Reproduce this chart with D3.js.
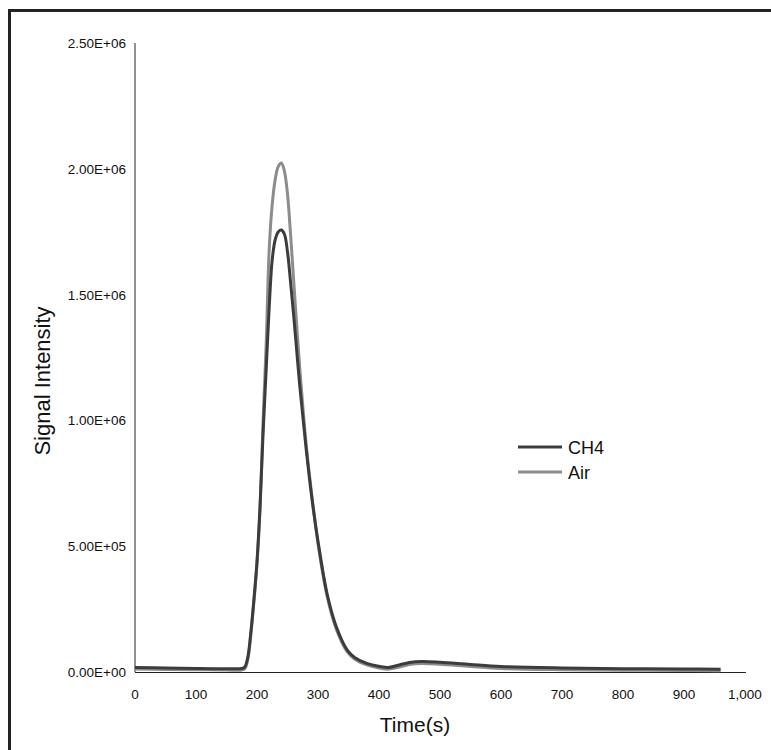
<html>
<head>
<title>Signal intensity vs time</title>
<script type="text/javascript" src="https://cdn.jsdelivr.net/npm/d3@7/dist/d3.min.js"></script>
<style>
  body { margin: 0; background: #fff; }
  text { font-family: "Liberation Sans", Arial, sans-serif; fill: #111; }
</style>
</head>
<body>
<div id="chart"></div>
<script type="text/javascript">

// time points (s) shared by both series
var times = [0, 50, 100, 150, 175, 180, 185, 190, 195, 200, 205, 210, 215, 220, 225, 230, 235, 240,
             245, 250, 255, 260, 265, 270, 275, 280, 290, 300, 315, 330, 348, 360, 380, 400, 415,
             430, 450, 470, 500, 550, 600, 700, 800, 900, 960];

var ch4 = [1.8e4, 1.6e4, 1.4e4, 1.3e4, 1.4e4, 2.0e4, 6.0e4, 1.6e5, 2.9e5, 4.4e5, 6.6e5, 9.5e5, 1.2e6, 1.45e6, 1.64e6, 1.72e6, 1.75e6, 1.757e6,
           1.74e6, 1.67e6, 1.55e6, 1.42e6, 1.28e6, 1.14e6, 1.02e6, 9.0e5, 6.9e5, 5.2e5, 3.1e5, 1.8e5, 8.7e4, 5.8e4, 3.4e4, 2.3e4, 1.8e4,
           2.6e4, 3.8e4, 4.2e4, 3.9e4, 3.0e4, 2.2e4, 1.6e4, 1.3e4, 1.2e4, 1.1e4];

var air = [1.2e4, 1.0e4, 0.9e4, 0.8e4, 0.8e4, 1.3e4, 5.0e4, 1.5e5, 2.8e5, 4.3e5, 6.5e5, 1.0e6, 1.3e6, 1.68e6, 1.86e6, 1.96e6, 2.01e6, 2.023e6,
           1.99e6, 1.90e6, 1.74e6, 1.56e6, 1.38e6, 1.21e6, 1.06e6, 9.2e5, 7.0e5, 5.1e5, 3.0e5, 1.7e5, 8.0e4, 5.2e4, 2.8e4, 1.6e4, 1.1e4,
           1.8e4, 3.0e4, 3.4e4, 3.1e4, 2.2e4, 1.4e4, 9e3, 7e3, 6e3, 5e3];

var xTicks = [0, 100, 200, 300, 400, 500, 600, 700, 800, 900, 1000];
var yTicks = [0, 5e5, 1e6, 1.5e6, 2e6, 2.5e6];

var seriesNames = ["CH4", "Air"];
var seriesColors = { "CH4": "#3c3c3c", "Air": "#8c8c8c" };

var width = 771, height = 750;

var svg = d3.select("#chart").append("svg")
  .attr("width", width)
  .attr("height", height);

// outer frame (runs off the right and bottom edge)
svg.append("path")
  .attr("d", "M9.5,780 L9.5,10.5 L780,10.5")
  .attr("fill", "none")
  .attr("stroke", "#222")
  .attr("stroke-width", 3);

var x = d3.scaleLinear().domain([0, 1000]).range([135, 745]);
var y = d3.scaleLinear().domain([0, 2.5e6]).range([672, 43]);

// y axis line + labels
svg.append("line")
  .attr("x1", 135).attr("x2", 135)
  .attr("y1", y(2.5e6)).attr("y2", y(0))
  .attr("stroke", "#555").attr("stroke-width", 1.3);

yTicks.forEach(function(v) {
  var s = v.toExponential(2).toUpperCase().replace("E+", "E+0");
  svg.append("text")
    .attr("x", 126)
    .attr("y", y(v) + 5)
    .attr("text-anchor", "end")
    .style("font-size", "13.5px")
    .text(s);
});

// x axis line + labels
svg.append("line")
  .attr("x1", 135).attr("x2", 746)
  .attr("y1", 672.5).attr("y2", 672.5)
  .attr("stroke", "#222").attr("stroke-width", 1.2);

xTicks.forEach(function(v) {
  svg.append("text")
    .attr("x", x(v))
    .attr("y", 699)
    .attr("text-anchor", "middle")
    .style("font-size", "13.5px")
    .text(d3.format(",")(v));
});

// axis titles
svg.append("text")
  .attr("x", 415)
  .attr("y", 732)
  .attr("text-anchor", "middle")
  .style("font-size", "21px")
  .text("Time(s)");

svg.append("text")
  .attr("transform", "translate(50,381) rotate(-90)")
  .attr("text-anchor", "middle")
  .style("font-size", "22px")
  .text("Signal Intensity");

// series
var line = d3.line()
  .x(function(d) { return x(d[0]); })
  .y(function(d) { return y(d[1]); })
  .curve(d3.curveCatmullRom.alpha(0.5));

var data = { "CH4": ch4, "Air": air };
["Air", "CH4"].forEach(function(name) {
  var pts = times.map(function(t, i) { return [t, data[name][i]]; });
  svg.append("path")
    .attr("d", line(pts))
    .attr("fill", "none")
    .attr("stroke", seriesColors[name])
    .attr("stroke-width", 3);
});

// legend
seriesNames.forEach(function(name, i) {
  var ly = 447 + i * 25;
  svg.append("line")
    .attr("x1", 518).attr("x2", 562)
    .attr("y1", ly).attr("y2", ly)
    .attr("stroke", seriesColors[name])
    .attr("stroke-width", 3);
  svg.append("text")
    .attr("x", 568)
    .attr("y", ly + 6.5)
    .style("font-size", "18px")
    .text(name);
});

</script>
</body>
</html>
